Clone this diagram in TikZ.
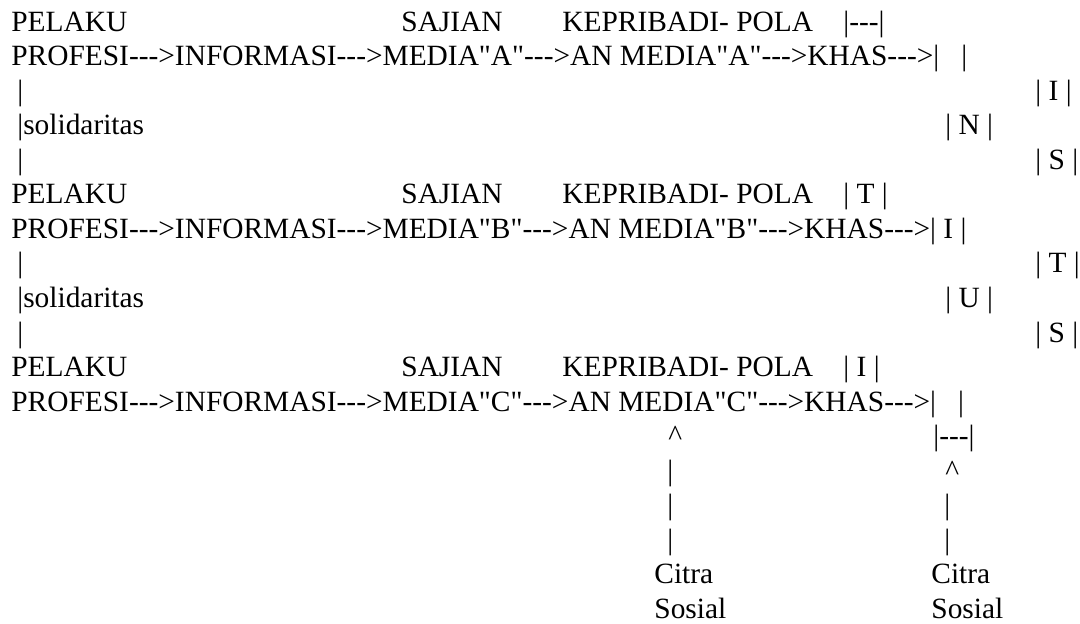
\documentclass[tikz,border=0pt]{standalone}
\usepackage{fontspec}
\newfontfamily\asciifont{Liberation Serif}

\begin{document}
\begin{tikzpicture}[x=0.5pt,y=-0.5pt,
    txt/.style={font=\asciifont\fontsize{14.7}{17}\selectfont,inner sep=0pt,anchor=base west}]
                    \useasboundingbox (0,0) rectangle (1080,623);
                    % blok A
                    \node[txt] (pelakuA) at (11,31) {PELAKU};
                    \node[txt] (sajianA) at (401,31) {SAJIAN};
                    \node[txt] (kepA) at (562,31) {KEPRIBADI- POLA};
                    \node[txt] (topbox) at (843,31) {|---|};
                    \node[txt] (rantaiA) at (11,65.6) {PROFESI--->INFORMASI--->MEDIA"A"--->AN MEDIA"A"--->KHAS--->|\ \ \ |};
                    \node[txt] (garisA1) at (17,100.1) {|};
                    \node[txt] (huruf1) at (1035,100.1) {| I |};
                    \node[txt] (solA) at (17,134.7) {|solidaritas};
                    \node[txt] (huruf2) at (945,134.7) {| N |};
                    \node[txt] (garisA2) at (17,169.2) {|};
                    \node[txt] (huruf3) at (1035,169.2) {| S |};
                    % blok B
                    \node[txt] (pelakuB) at (11,203.8) {PELAKU};
                    \node[txt] (sajianB) at (401,203.8) {SAJIAN};
                    \node[txt] (kepB) at (562,203.8) {KEPRIBADI- POLA};
                    \node[txt] (huruf4) at (843,203.8) {| T |};
                    \node[txt] (rantaiB) at (11,238.3) {PROFESI--->INFORMASI--->MEDIA"B"--->AN MEDIA"B"--->KHAS--->| I |};
                    \node[txt] (garisB1) at (17,272.9) {|};
                    \node[txt] (huruf6) at (1035,272.9) {| T |};
                    \node[txt] (solB) at (17,307.4) {|solidaritas};
                    \node[txt] (huruf7) at (945,307.4) {| U |};
                    \node[txt] (garisB2) at (17,342) {|};
                    \node[txt] (huruf8) at (1035,342) {| S |};
                    % blok C
                    \node[txt] (pelakuC) at (11,376.5) {PELAKU};
                    \node[txt] (sajianC) at (401,376.5) {SAJIAN};
                    \node[txt] (kepC) at (562,376.5) {KEPRIBADI- POLA};
                    \node[txt] (huruf9) at (843,376.5) {| I |};
                    \node[txt] (rantaiC) at (11,411.1) {PROFESI--->INFORMASI--->MEDIA"C"--->AN MEDIA"C"--->KHAS--->|\ \ \ |};
                    % citra sosial
                    \node[txt] (panahM) at (668,445.6) {\textasciicircum};
                    \node[txt] (botbox) at (933,445.6) {|---|};
                    \node[txt] (batangM1) at (667,480.2) {|};
                    \node[txt] (panahI) at (945,480.2) {\textasciicircum};
                    \node[txt] (batangM2) at (667,514.7) {|};
                    \node[txt] (batangI1) at (944,514.7) {|};
                    \node[txt] (batangM3) at (667,549.3) {|};
                    \node[txt] (batangI2) at (944,549.3) {|};
                    \node[txt] (citraM) at (654,583.8) {Citra};
                    \node[txt] (citraI) at (931,583.8) {Citra};
                    \node[txt] (sosialM) at (654,618.4) {Sosial};
                    \node[txt] (sosialI) at (931,618.4) {Sosial};
                \end{tikzpicture}
\end{document}
